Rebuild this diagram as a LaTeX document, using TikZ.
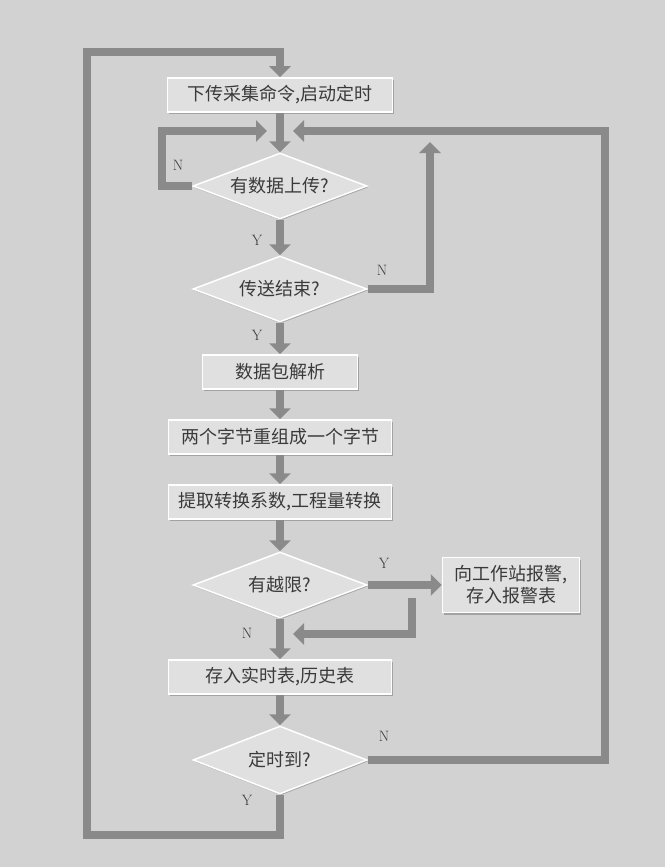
\documentclass[tikz,border=0pt]{standalone}
\usepackage{fontspec}
\newfontfamily\cjk{Noto Sans CJK SC}
\usetikzlibrary{shapes.geometric,arrows.meta,shadows}
\definecolor{bgc}{HTML}{D2D2D2}
\definecolor{boxc}{HTML}{E0E0E0}
\definecolor{connc}{HTML}{8A8A8A}
\definecolor{txtc}{HTML}{3A3A3A}
\tikzset{
  stepbox/.style={rectangle, fill=boxc, draw=white, line width=1.5pt, text=txtc,
    font=\cjk\fontsize{18}{22}\selectfont, inner sep=2pt,
    drop shadow={shadow xshift=1.5pt, shadow yshift=-2pt, fill=black!55}},
  decide/.style={diamond, aspect=2.6, fill=boxc, draw=white, line width=1.5pt, text=txtc,
    font=\cjk\fontsize{18}{22}\selectfont, inner sep=0pt, minimum width=174pt, minimum height=66pt,
    drop shadow={shadow xshift=1pt, shadow yshift=-1.5pt, fill=black!50}},
  conn/.style={draw=connc, line width=8pt, -{Triangle[length=11pt,width=21pt]}},
  lab/.style={font=\fontsize{15}{17}\selectfont, text=txtc}
}
\begin{document}
\begin{tikzpicture}[x=1pt,y=-1pt]
\fill[bgc] (0,0) rectangle (665,867);
\useasboundingbox (0,0) rectangle (665,867);

% nodes
\node[stepbox, minimum width=225pt, minimum height=34pt] (b1) at (280,95) {下传采集命令,启动定时};
\node[decide] (d1) at (280,186) {有数据上传?};
\node[decide] (d2) at (280,289) {传送结束?};
\node[stepbox, minimum width=155pt, minimum height=34pt] (b2) at (280,372) {数据包解析};
\node[stepbox, minimum width=223pt, minimum height=34pt] (b3) at (280,437) {两个字节重组成一个字节};
\node[stepbox, minimum width=223pt, minimum height=34pt] (b4) at (280,502) {提取转换系数,工程量转换};
\node[decide] (d3) at (280,585) {有越限?};
\node[stepbox, minimum width=137pt, minimum height=55pt, align=center] (b5) at (511,585) {向工作站报警,\\存入报警表};
\node[stepbox, minimum width=223pt, minimum height=34pt] (b6) at (280,677) {存入实时表,历史表};
\node[decide, minimum height=68pt] (d4) at (280,760) {定时到?};

% junction points
\coordinate (j) at (280,131);
\coordinate (mj) at (280,634);
\coordinate (c1) at (87,835);
\coordinate (c2) at (87,52);
\coordinate (r1) at (605,131);
\coordinate (nl) at (162,131);
\coordinate (u) at (430,142);
\coordinate (a0) at (412,598);

% connectors
\draw[conn] (d4.south) |- (c1) -- (c2) -| (b1.north);
\draw[conn] (d4.east) -| (r1) -- ([xshift=13pt]j);
\draw[conn] (d1.west) -| (nl) -- ([xshift=-13pt]j);
\draw[conn] (b1.south) -- (d1.north);
\draw[conn] (d1.south) -- (d2.north);
\draw[conn] (d2.east) -| (u);
\draw[conn] (d2.south) -- (b2.north);
\draw[conn] (b2.south) -- (b3.north);
\draw[conn] (b3.south) -- (b4.north);
\draw[conn] (b4.south) -- (d3.north);
\draw[conn] (d3.east) -- (b5.west);
\draw[conn] (a0) |- ([xshift=13pt]mj);
\draw[conn] (d3.south) -- (b6.north);
\draw[conn] (b6.south) -- (d4.north);

% labels
\node[lab] (ly1) at (257,240) {Y};
\node[lab] (ly2) at (257,335) {Y};
\node[lab] (ln1) at (178,165) {N};
\node[lab] (ln2) at (382,270) {N};
\node[lab] (ly3) at (384,563) {Y};
\node[lab] (ln3) at (247,633) {N};
\node[lab] (ln4) at (384,736) {N};
\node[lab] (ly4) at (247,800) {Y};
\end{tikzpicture}
\end{document}
